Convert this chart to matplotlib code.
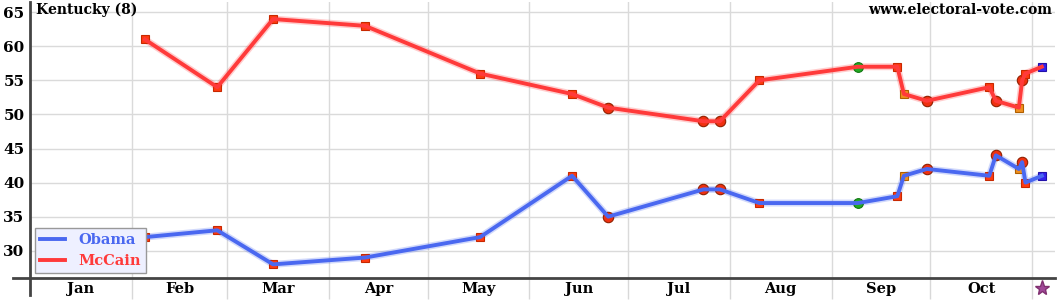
import matplotlib
matplotlib.use("Agg")
import matplotlib.pyplot as plt
import pandas as pd

# poll dates and results
poll_dates = ["2008-02-05", "2008-02-27", "2008-03-15", "2008-04-12", "2008-05-17",
              "2008-06-14", "2008-06-25", "2008-07-24", "2008-07-29", "2008-08-10",
              "2008-09-09", "2008-09-21", "2008-09-23", "2008-09-30", "2008-10-19",
              "2008-10-21", "2008-10-28", "2008-10-29", "2008-10-30", "2008-11-04"]
obama = [32, 33, 28, 29, 32, 41, 35, 39, 39, 37, 37, 38, 41, 42, 41, 44, 42, 43, 40, 41]
mccain = [61, 54, 64, 63, 56, 53, 51, 49, 49, 55, 57, 57, 53, 52, 54, 52, 51, 55, 56, 57]
# marker kind per poll
kinds = ["sq", "sq", "sq", "sq", "sq", "sq", "ci", "ci", "ci", "sq",
         "green", "sq", "orange", "ci", "sq", "ci", "orange", "ci", "sq", "blue"]
election_day = "2008-11-04"
month_labels = ["Jan", "Feb", "Mar", "Apr", "May", "Jun", "Jul", "Aug", "Sep", "Oct"]

dates = pd.to_datetime(poll_dates)

marker_styles = {
    "sq": dict(marker="s", ms=6, mfc="#ff3b10", mec="#c82800", mew=0.8),
    "ci": dict(marker="o", ms=7.5, mfc="#f03010", mec="#902000", mew=0.8),
    "green": dict(marker="o", ms=7, mfc="#22aa22", mec="#117711", mew=0.8),
    "orange": dict(marker="s", ms=6, mfc="#f09020", mec="#b06000", mew=0.8),
    "blue": dict(marker="s", ms=6, mfc="#3322ee", mec="#2211aa", mew=0.8),
}

serif = ["DejaVu Serif"]
fig = plt.figure(figsize=(10.6, 3.0), dpi=100)
ax = fig.add_axes([30 / 1060, 22 / 300, 1025 / 1060, 276 / 300])

ax.set_xlim(pd.Timestamp("2008-01-01"), pd.Timestamp("2008-11-08"))
ax.set_ylim(26, 66.5)

obama_col = "#4a68f0"
mccain_col = "#ff3a3a"
for vals, col, name in [(obama, obama_col, "Obama"), (mccain, mccain_col, "McCain")]:
    ax.plot(dates, vals, color=col, lw=5, alpha=0.25, zorder=3, solid_capstyle="round")
    for d, v, k in zip(dates, vals, kinds):
        ax.plot([d], [v], ls="none", zorder=4, **marker_styles[k])
    ax.plot(dates, vals, color=col, lw=2.8, zorder=5, label=name, solid_joinstyle="round")

# election day star below the axis
ax.plot([pd.Timestamp(election_day)], [24.6], marker="*", ms=11, color="#a04898",
        mec="#803070", clip_on=False, zorder=6)

# month gridlines / labels
month_starts = pd.date_range("2008-01-01", "2008-11-01", freq="MS")
ax.set_xticks(month_starts[1:])
ax.set_xticklabels([])
ax.tick_params(axis="x", which="major", length=15, color="#d8d8d8", width=1)
mids = [s + (e - s) / 2 for s, e in zip(month_starts[:-1], month_starts[1:])]
ax.set_xticks(mids, minor=True)
ax.set_xticklabels(month_labels, minor=True, fontfamily=serif, fontweight="bold", fontsize=10.5)
ax.tick_params(axis="x", which="minor", length=0, pad=3)

ax.set_yticks([30, 35, 40, 45, 50, 55, 60, 65])
ax.tick_params(axis="y", length=0, pad=4)
for t in ax.get_yticklabels():
    t.set_fontfamily(serif)
    t.set_fontweight("bold")
    t.set_fontsize(11)

ax.grid(True, which="major", color="#dadada", lw=1)
for s in ["top", "right"]:
    ax.spines[s].set_visible(False)
ax.spines["left"].set_color("#444444")
ax.spines["left"].set_linewidth(2)
ax.spines["bottom"].set_color("#444444")
ax.spines["bottom"].set_linewidth(2)
# axis lines reach past the corner
ax.plot([-17 / 1025, 0], [0, 0], transform=ax.transAxes, color="#444444", lw=2, clip_on=False)
ax.plot([0, 0], [0, -17 / 276], transform=ax.transAxes, color="#444444", lw=2, clip_on=False)

fig.text(36 / 1060, 1 - 10 / 300, "Kentucky (8)", fontfamily=serif, fontweight="bold",
         fontsize=10, va="center", ha="left")
fig.text(1052 / 1060, 1 - 10 / 300, "www.electoral-vote.com", fontfamily=serif,
         fontweight="bold", fontsize=10, va="center", ha="right")

leg = ax.legend(loc="lower left", bbox_to_anchor=(5 / 1025, 5 / 276),
                prop=dict(family=serif, weight="bold", size=10.5),
                frameon=True, fancybox=False, handlelength=1.7, borderpad=0.35,
                labelspacing=0.45, handletextpad=0.9, borderaxespad=0)
leg.get_frame().set_facecolor("#eef0ff")
leg.get_frame().set_edgecolor("#999999")
leg.get_frame().set_alpha(1)
for txt, col in zip(leg.get_texts(), [obama_col, mccain_col]):
    txt.set_color(col)

fig.savefig("out.png", dpi=100)
